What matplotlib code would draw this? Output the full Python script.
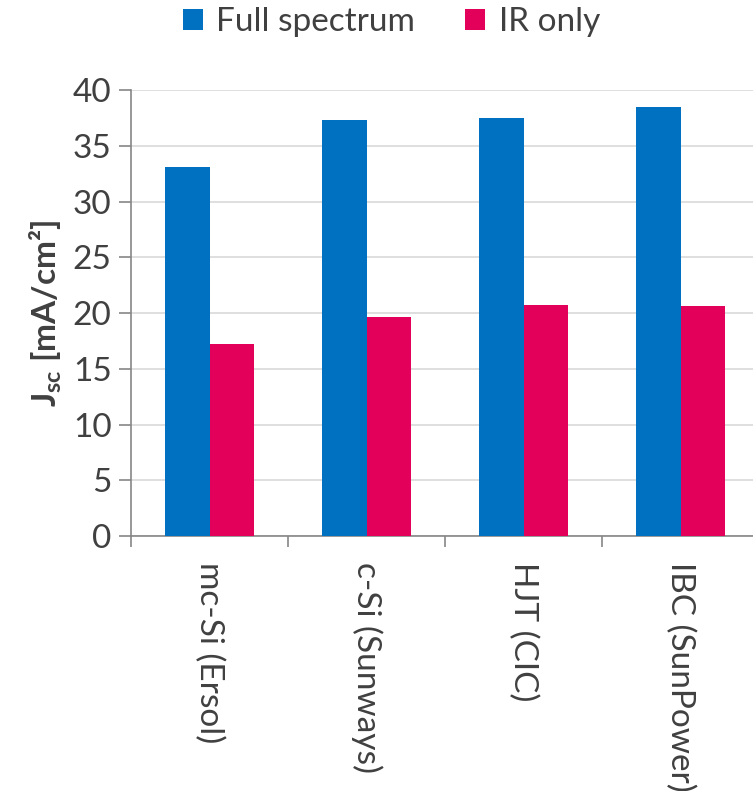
import matplotlib
matplotlib.use('Agg')
import matplotlib.pyplot as plt
import numpy as np

# Short-circuit current density per cell type
cells = ['mc-Si (Ersol)', 'c-Si (Sunways)', 'HJT (CIC)', 'IBC (SunPower)']
full_spectrum = [33.1, 37.3, 37.5, 38.5]
ir_only = [17.2, 19.6, 20.7, 20.6]

plt.rcParams['font.family'] = ['Lato', 'DejaVu Sans']
plt.rcParams['mathtext.fontset'] = 'custom'
plt.rcParams['mathtext.rm'] = 'Lato'
plt.rcParams['mathtext.bf'] = 'Lato:bold'

text_color = '#404040'
axis_color = '#868686'
fs = 24

fig = plt.figure(figsize=(7.53, 7.91), dpi=100)
ax = fig.add_axes([0.174, 0.3224, 0.834, 0.5637])

x = np.arange(len(cells))
w = 0.283
ax.bar(x - w / 2, full_spectrum, w, color='#0070c0', label='Full spectrum', zorder=3)
ax.bar(x + w / 2, ir_only, w, color='#e2005a', label='IR only', zorder=3)

ax.set_xlim(-0.5, len(cells) - 0.5)
ax.set_ylim(0, 40)
ax.set_yticks(range(0, 41, 5))
ax.yaxis.grid(True, color='#d9d9d9', linewidth=1.2, zorder=0)

# category labels sit between boundary ticks
ax.set_xticks(x)
ax.set_xticklabels(cells, rotation=270, va='top', ha='center')
ax.set_xticks(np.arange(-0.5, len(cells), 1), minor=True)
ax.tick_params(axis='x', which='major', length=0, pad=19, labelsize=fs, labelcolor=text_color)
ax.tick_params(axis='x', which='minor', length=8, width=1.2, color=axis_color)
ax.tick_params(axis='y', length=9, width=1.2, color=axis_color, pad=5,
               labelsize=fs, labelcolor=text_color)

for side in ['top', 'right']:
    ax.spines[side].set_visible(False)
for side in ['left', 'bottom']:
    ax.spines[side].set_color(axis_color)
    ax.spines[side].set_linewidth(1.2)

ax.set_ylabel(r'$\mathbf{J}_{\mathbf{sc}}$ [mA/cm²]', fontsize=fs, fontweight='bold',
              color=text_color, labelpad=6)

fig.legend(loc='center', bbox_to_anchor=(0.52, 0.972), ncol=2, frameon=False,
           fontsize=fs, labelcolor=text_color, handlelength=0.6, handleheight=0.6,
           handletextpad=0.4, columnspacing=1.5)

fig.savefig('out.png', dpi=100)
